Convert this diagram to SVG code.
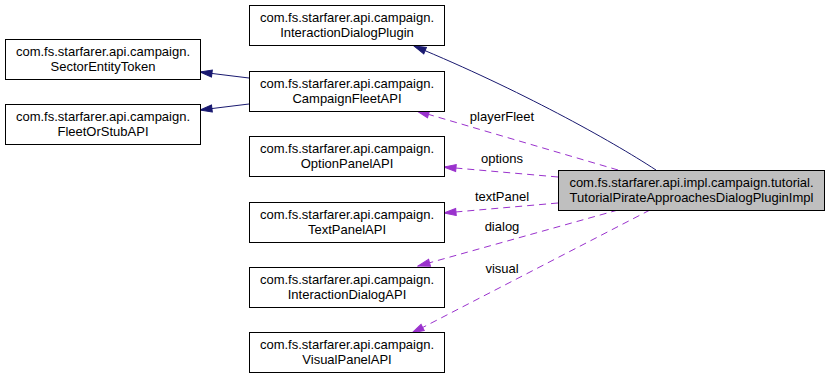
<svg xmlns="http://www.w3.org/2000/svg" width="829" height="379" viewBox="0 0 829 379">
  <style>
    .box { fill: #ffffff; stroke: #000000; stroke-width: 1; }
    .main { fill: #bfbfbf; stroke: #000000; stroke-width: 1; }
    text { font-family: "Liberation Sans", Arial, Helvetica, sans-serif; font-size: 13px; fill: #000000; text-anchor: middle; }
    .inherit { fill: none; stroke: #191970; stroke-width: 1; }
    .use { fill: none; stroke: #9a32cd; stroke-width: 1; stroke-dasharray: 7,5; }
  </style>
  <defs>
    <marker id="arrowBlue" markerUnits="userSpaceOnUse" markerWidth="14" markerHeight="10" refX="13" refY="5" orient="auto">
      <path d="M1,1.5 L13,5 L1,8.5 Z" fill="#191970" stroke="#191970"/>
    </marker>
    <marker id="arrowPurple" markerUnits="userSpaceOnUse" markerWidth="14" markerHeight="10" refX="13" refY="5" orient="auto">
      <path d="M1,1.5 L13,5 L1,8.5 Z" fill="#9a32cd" stroke="#9a32cd"/>
    </marker>
  </defs>

  <g id="edges">
    <path class="inherit" d="M656,170 C610,140 520,90 414,46" marker-end="url(#arrowBlue)"/>
    <path class="inherit" d="M249,78 L200,72" marker-end="url(#arrowBlue)"/>
    <path class="inherit" d="M249,104 L200,110" marker-end="url(#arrowBlue)"/>
    <path class="use" d="M618,170 L417,111" marker-end="url(#arrowPurple)"/>
    <text x="502" y="121">playerFleet</text>
    <path class="use" d="M558,177 L444,167" marker-end="url(#arrowPurple)"/>
    <text x="502" y="163">options</text>
    <path class="use" d="M558,203 L444,213" marker-end="url(#arrowPurple)"/>
    <text x="502" y="201">textPanel</text>
    <path class="use" d="M618,210 L418,266" marker-end="url(#arrowPurple)"/>
    <text x="502" y="231">dialog</text>
    <path class="use" d="M650,210 L412,333" marker-end="url(#arrowPurple)"/>
    <text x="502" y="273">visual</text>
  </g>

  <g id="node-main">
    <rect class="main" x="558.5" y="170.5" width="266" height="40"/>
    <text x="691.5" y="187">com.fs.starfarer.api.impl.campaign.tutorial.</text>
    <text x="691.5" y="202">TutorialPirateApproachesDialogPluginImpl</text>
  </g>

  <g id="node-interaction-dialog-plugin">
    <rect class="box" x="249.5" y="5.5" width="195" height="40"/>
    <text x="347" y="22">com.fs.starfarer.api.campaign.</text>
    <text x="347" y="37">InteractionDialogPlugin</text>
  </g>

  <g id="node-sector-entity-token">
    <rect class="box" x="5.5" y="39.5" width="195" height="40"/>
    <text x="103" y="56">com.fs.starfarer.api.campaign.</text>
    <text x="103" y="71">SectorEntityToken</text>
  </g>

  <g id="node-campaign-fleet-api">
    <rect class="box" x="249.5" y="71.5" width="195" height="40"/>
    <text x="347" y="88">com.fs.starfarer.api.campaign.</text>
    <text x="347" y="103">CampaignFleetAPI</text>
  </g>

  <g id="node-fleet-or-stub-api">
    <rect class="box" x="5.5" y="104.5" width="195" height="40"/>
    <text x="103" y="121">com.fs.starfarer.api.campaign.</text>
    <text x="103" y="136">FleetOrStubAPI</text>
  </g>

  <g id="node-option-panel-api">
    <rect class="box" x="249.5" y="136.5" width="195" height="40"/>
    <text x="347" y="153">com.fs.starfarer.api.campaign.</text>
    <text x="347" y="168">OptionPanelAPI</text>
  </g>

  <g id="node-text-panel-api">
    <rect class="box" x="249.5" y="202.5" width="195" height="40"/>
    <text x="347" y="219">com.fs.starfarer.api.campaign.</text>
    <text x="347" y="234">TextPanelAPI</text>
  </g>

  <g id="node-interaction-dialog-api">
    <rect class="box" x="249.5" y="267.5" width="195" height="40"/>
    <text x="347" y="284">com.fs.starfarer.api.campaign.</text>
    <text x="347" y="299">InteractionDialogAPI</text>
  </g>

  <g id="node-visual-panel-api">
    <rect class="box" x="249.5" y="332.5" width="195" height="40"/>
    <text x="347" y="349">com.fs.starfarer.api.campaign.</text>
    <text x="347" y="364">VisualPanelAPI</text>
  </g>
</svg>
